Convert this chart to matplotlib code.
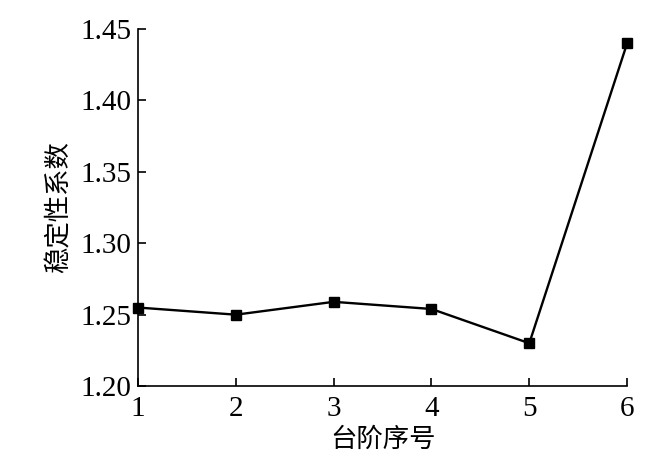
# Gráfica del coeficiente de estabilidad por escalón.
import matplotlib
matplotlib.use("Agg")
import matplotlib.pyplot as plt

# Datos.
taijie = [1, 2, 3, 4, 5, 6]
xishu = [1.255, 1.250, 1.259, 1.254, 1.230, 1.440]
yticks = [1.20, 1.25, 1.30, 1.35, 1.40, 1.45]

plt.rcParams["font.family"] = ["Liberation Serif", "Noto Sans CJK SC"]

fig = plt.figure(figsize=(6.7, 4.68), dpi=100)
ax = fig.add_axes([0.206, 0.175, 0.73, 0.763])

ax.plot(taijie, xishu, color="black", linewidth=1.7, marker="s",
        markersize=7.5, clip_on=False, zorder=3)

ax.set_xlim(1, 6)
ax.set_ylim(1.20, 1.45)
ax.set_xticks(taijie)
ax.set_yticks(yticks)
ax.set_yticklabels([f"{v:.2f}" for v in yticks])

ax.spines["top"].set_visible(False)
ax.spines["right"].set_visible(False)
ax.spines["left"].set_linewidth(1.2)
ax.spines["bottom"].set_linewidth(1.2)
ax.tick_params(direction="in", length=6, width=1.2, labelsize=21)
ax.tick_params(axis="y", pad=5)
ax.tick_params(axis="x", pad=7)

ax.set_xlabel("台阶序号", fontsize=19, family=["Noto Sans CJK SC"], labelpad=3)
ax.set_ylabel("稳定性系数", fontsize=19, family=["Noto Sans CJK SC"], labelpad=5)

fig.savefig("out.png", dpi=100)
